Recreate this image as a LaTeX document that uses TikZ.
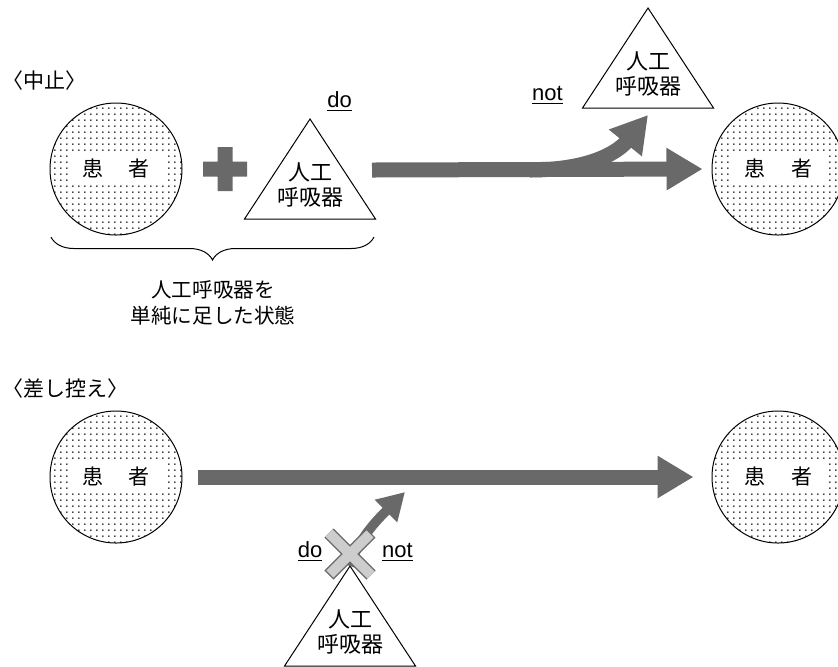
\documentclass[tikz,border=0pt]{standalone}
\usepackage{fontspec}
\setmainfont{Liberation Sans}
\newfontfamily\jp{Noto Sans CJK JP}
\usetikzlibrary{arrows.meta, decorations.pathreplacing, patterns.meta}

\definecolor{arrowgray}{RGB}{105,105,105}
\definecolor{crossgray}{RGB}{205,205,205}
\tikzdeclarepattern{
  name=halftone,
  type=uncolored,
  bounding box={(0pt,0pt) and (2.9pt,2.9pt)},
  tile size={(2.9pt,2.9pt)},
  code={\fill (1.45pt,1.45pt) circle (0.45pt);}
}

\begin{document}
\begin{tikzpicture}[x=0.5pt,y=-0.5pt,node distance=331pt,
                    patient/.style={circle,draw,line width=0.5pt,pattern=halftone,
                        minimum size=66pt,inner sep=0pt,
                        label={[ptext]center:患\hspace{13pt}者}},
                    ptext/.style={fill=white,inner xsep=7pt,inner ysep=2.5pt,
                        font=\jp\fontsize{10.5pt}{12pt}\selectfont},
                    vent/.style={align=center,inner sep=0pt,
                        font=\jp\fontsize{11pt}{12.5pt}\selectfont},
                    tag/.style={anchor=west,inner sep=0pt,
                        font=\jp\fontsize{10.5pt}{12pt}\selectfont},
                    note/.style={align=center,inner sep=0pt,
                        font=\jp\fontsize{10.3pt}{13pt}\selectfont},
                    word/.style={anchor=base,inner sep=0pt,
                        font=\fontsize{11pt}{13pt}\selectfont},
                    flow/.style={draw=arrowgray,line width=7.5pt,
                        -{Triangle[length=18pt,width=20pt]}},
                    twig/.style={draw=arrowgray,line width=4.8pt,
                        -{Triangle[length=13.5pt,width=15pt]}}]
  \useasboundingbox (0,0) rectangle (838,666);

  % patients
  \node[patient] (p1) at (116,169) {};
  \node[patient] (p2) [right of=p1] {};
  \node[patient] (p3) [below of=p1,node distance=154pt] {};
  \node[patient] (p4) [right of=p3] {};

  % ventilators (apex, base centre, text)
  \foreach \n/\x/\y in {v1/310/119, v2/648/8, v3/350/566} {
    \coordinate (\n) at (\x,\y);
    \coordinate (b\n) at (\x,\y+100);
    \draw[line width=0.5pt] (\n) -- ++(65.5,100) -- ++(-131,0) -- cycle;
    \node[vent] (t\n) at (\x,\y+66) {人工\\呼吸器};
  }

  \node[tag] (c1) at (2,81) {〈中止〉};
  \node[tag] (c2) at (2,389) {〈差し控え〉};

  % plus sign
  \fill[arrowgray] (203,161.5) rectangle (247,176.5)
                   (217.5,147) rectangle (232.5,191);

  \draw[line width=0.5pt,decorate,decoration={brace,amplitude=11.5pt}]
    (374,237) -- (51,237);
  \node[note] (n1) at (213,303) {人工呼吸器を\\単純に足した状態};

  \node[word] (d1) at (339.5,107) {\underline{do}};
  \node[word] (d2) at (547.5,100) {\underline{not}};
  \node[word] (d3) at (310,557) {\underline{do}};
  \node[word] (d4) at (397.5,557) {\underline{not}};

  % arrows
  \coordinate (s1) at (372,170);
  \coordinate (k1) at (530,170);
  \coordinate (e3) at (405,492);
  \coordinate (x3) at (350,554);
  \draw[flow] (k1) .. controls (590,170) and (618,152) .. ([yshift=-3.5pt]bv2);
  \draw[flow] (s1) -- ([xshift=-4.5pt]p2.west);
  \draw[flow,shorten <=7.5pt,shorten >=9pt] (p3.east) -- (p4.west);
  \draw[twig] (v3) .. controls (358,540) and (375,522) .. (e3);

  % cross
  \foreach \c/\w/\s in {arrowgray/6.5pt/0pt, crossgray/5pt/0.7pt}
    \draw[\c,line width=\w,shorten <=\s,shorten >=\s]
      ([shift={(-21,-21)}]x3) -- ([shift={(21,21)}]x3)
      ([shift={(-21,21)}]x3) -- ([shift={(21,-21)}]x3);
\end{tikzpicture}
\end{document}
